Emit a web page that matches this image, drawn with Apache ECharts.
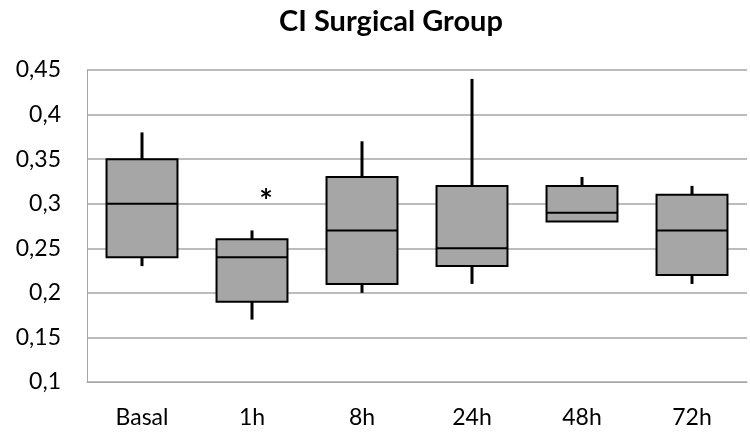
<!DOCTYPE html>
<html><head><meta charset="utf-8">
<script src="https://cdn.jsdelivr.net/npm/echarts@6/dist/echarts.min.js"></script>
<style>html,body{margin:0;padding:0;background:#fff}#c{width:750px;height:433px}</style>
</head><body><div id="c"></div>
<script>
const categories = ['Basal', '1h', '8h', '24h', '48h', '72h'];
const mins    = [0.23, 0.17, 0.20, 0.21, 0.28, 0.21];
const q1s     = [0.24, 0.19, 0.21, 0.23, 0.28, 0.22];
const medians = [0.30, 0.24, 0.27, 0.25, 0.29, 0.27];
const q3s     = [0.35, 0.26, 0.33, 0.32, 0.32, 0.31];
const maxs    = [0.38, 0.27, 0.37, 0.44, 0.33, 0.32];
const annotations = [{ category: '1h', value: 0.305, text: '*' }];

const font = "Lato, 'Open Sans', sans-serif";
const boxData = categories.map((c, i) => [i, mins[i], q1s[i], medians[i], q3s[i], maxs[i]]);

const chart = echarts.init(document.getElementById('c'));
chart.setOption({
  animation: false,
  title: { text: 'CI Surgical Group', left: 386, top: 2, textAlign: 'center',
    textStyle: { fontFamily: font, fontWeight: 'bold', fontSize: 29, color: '#000' } },
  grid: { left: 87, right: 3, top: 70, bottom: 51, containLabel: false },
  xAxis: { type: 'category', data: categories,
    axisLine: { show: true, lineStyle: { color: '#a6a6a6', width: 1 } },
    axisTick: { show: false },
    axisLabel: { fontFamily: font, fontSize: 23, color: '#000', margin: 24 } },
  yAxis: { type: 'value', min: 0.1, max: 0.45, interval: 0.05,
    axisLine: { show: true, lineStyle: { color: '#a6a6a6', width: 1 } },
    axisTick: { show: false },
    splitLine: { lineStyle: { color: '#a6a6a6', width: 1.5 } },
    axisLabel: { fontFamily: font, fontSize: 23, color: '#000', margin: 26,
      formatter: v => String(+v.toFixed(2)).replace('.', ',') } },
  series: [{
    type: 'custom',
    data: boxData,
    encode: { x: 0, y: [1, 2, 3, 4, 5] },
    renderItem: function (params, api) {
      const x = api.value(0);
      const pMin = api.coord([x, api.value(1)]);
      const pQ1 = api.coord([x, api.value(2)]);
      const pMed = api.coord([x, api.value(3)]);
      const pQ3 = api.coord([x, api.value(4)]);
      const pMax = api.coord([x, api.value(5)]);
      const halfW = api.size([1, 0])[0] * 0.645 / 2;
      const cx = pQ1[0];
      return { type: 'group', children: [
        { type: 'line', shape: { x1: cx, y1: pMax[1], x2: cx, y2: pQ3[1] }, style: { stroke: '#000', lineWidth: 3 } },
        { type: 'line', shape: { x1: cx, y1: pQ1[1], x2: cx, y2: pMin[1] }, style: { stroke: '#000', lineWidth: 3 } },
        { type: 'rect', shape: { x: cx - halfW, y: pQ3[1], width: halfW * 2, height: pQ1[1] - pQ3[1] },
          style: { fill: '#a6a6a6', stroke: '#000', lineWidth: 2 } },
        { type: 'line', shape: { x1: cx - halfW, y1: pMed[1], x2: cx + halfW, y2: pMed[1] }, style: { stroke: '#000', lineWidth: 2 } }
      ]};
    }
  }, {
    type: 'custom',
    data: annotations.map(a => [categories.indexOf(a.category), a.value, a.text]),
    renderItem: function (params, api) {
      const p = api.coord([api.value(0), api.value(1)]);
      return { type: 'text', x: p[0] + 14, y: p[1] + 3,
        style: { text: annotations[params.dataIndex].text, fontFamily: font, fontSize: 32, fontWeight: 'bold',
          fill: '#000', align: 'center', verticalAlign: 'middle' } };
    }
  }]
});
</script></body></html>
